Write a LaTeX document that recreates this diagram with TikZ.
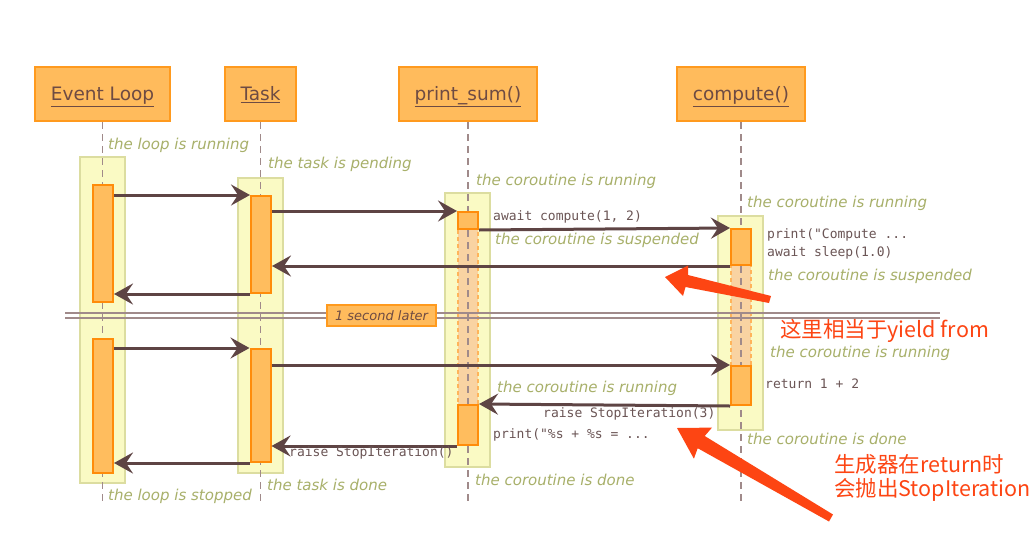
\documentclass[tikz,border=0pt]{standalone}
\usepackage{fontspec}
\setmainfont{DejaVu Sans}
\setmonofont{DejaVu Sans Mono}
\newfontfamily\cjk{Noto Sans CJK SC}
\usetikzlibrary{arrows.meta,calc}
\definecolor{hdfill}{HTML}{FFBB5C}
\definecolor{hdline}{HTML}{FF9A1E}
\definecolor{txtbrown}{HTML}{6E4B43}
\definecolor{bandfill}{HTML}{FAFAC4}
\definecolor{bandline}{HTML}{DCDDA0}
\definecolor{actfill}{HTML}{FFBD5E}
\definecolor{actline}{HTML}{FF8C0A}
\definecolor{suspfill}{HTML}{F9D3A2}
\definecolor{suspline}{HTML}{FFB45A}
\definecolor{notegreen}{HTML}{A8B06A}
\definecolor{codegray}{HTML}{6B5555}
\definecolor{msgcol}{HTML}{5E4444}
\definecolor{lifecol}{HTML}{A08A8A}
\definecolor{annot}{HTML}{FD4513}
\begin{document}
\begin{tikzpicture}[x=1pt,y=-1pt,
  head/.style={draw=hdline,fill=hdfill,line width=2pt,minimum height=54pt,inner sep=0pt,text=txtbrown,text height=13pt,text depth=0pt,font=\fontsize{18.5}{21}\selectfont},
  band/.style={draw=bandline,fill=bandfill,line width=2pt,inner sep=0pt,minimum width=45pt},
  act/.style={draw=actline,fill=actfill,line width=2pt,inner sep=0pt,minimum width=20pt},
  susp/.style={draw=suspline,fill=suspfill,line width=1.8pt,dash pattern=on 4pt off 3pt,inner sep=0pt,minimum width=20pt},
  life/.style={draw=lifecol,line width=1.3pt,dash pattern=on 7pt off 5pt},
  msg/.style={draw=msgcol,line width=3pt,-{Stealth[length=19pt,width=21pt,inset=7pt]}},
  note/.style={text=notegreen,font=\fontsize{15}{17}\selectfont\itshape,anchor=west,inner sep=0pt},
  code/.style={text=codegray,font=\fontsize{13}{15}\selectfont\ttfamily,anchor=west,inner sep=0pt},
  cjknote/.style={text=annot,font=\cjk\fontsize{21.5}{26}\selectfont,anchor=west,inner sep=0pt},
  sepline/.style={draw=lifecol,line width=1.2pt},
  laterbox/.style={draw=hdline,fill=hdfill,line width=2pt,minimum width=109pt,minimum height=21pt,inner sep=0pt,text=txtbrown,font=\fontsize{13}{15}\selectfont\itshape}
]
\useasboundingbox[fill=white] (0,0) rectangle (1031,536);

% headers
\node[head,minimum width=135pt] (elh) at (102.5,94) {\underline{Event Loop}};
\node[head,minimum width=71pt] (th) at (260.5,94) {\underline{Task}};
\node[head,minimum width=138pt] (psh) at (468,94) {\underline{print\_sum()}};
\node[head,minimum width=128pt] (ch) at (741,94) {\underline{compute()}};

% bands
\node[band,minimum height=326pt] (elb) at (102.5,320) {};
\node[band,minimum height=295pt] (tb) at (260.5,325.5) {};
\node[band,minimum height=274pt] (psb) at (467.5,330) {};
\node[band,minimum height=214pt] (cb) at (740.5,323) {};

% suspended regions
\node[susp,minimum height=176pt] (pss) at (468,317) {};
\node[susp,minimum height=101pt] (cs) at (741,315.5) {};

% lifelines
\coordinate (elend) at (102.5,505);
\coordinate (tend) at (260.5,505);
\coordinate (psend) at (468,505);
\coordinate (cend) at (741,505);
\draw[life] (elh.south) -- (elend);
\draw[life] (th.south) -- (tend);
\draw[life] (psh.south) -- (psend);
\draw[life] (ch.south) -- (cend);

% activations
\node[act,minimum height=117pt] (el1) at (103,243.5) {};
\node[act,minimum height=134pt] (el2) at (103,406) {};
\node[act,minimum height=97pt] (t1) at (261,244.5) {};
\node[act,minimum height=113pt] (t2) at (260.5,405.5) {};
\node[act,minimum height=17pt] (ps1) at (468,220.5) {};
\node[act,minimum height=40pt] (ps2) at (468,425) {};
\node[act,minimum height=36pt] (c1) at (741,247) {};
\node[act,minimum height=39pt] (c2) at (741,385.5) {};

% time break
\coordinate (sepL) at (65,313);
\coordinate (sepR) at (940,313);
\coordinate (sepL2) at (65,318);
\coordinate (sepR2) at (940,318);
\draw[sepline] (sepL) -- (sepR);
\draw[sepline] (sepL2) -- (sepR2);
\node[laterbox] (later) at (381.5,315.5) {1 second later};

% messages
\draw[msg] (el1.east |- t1.north) -- (t1.north west);
\draw[msg] (t1.east |- ps1.north) -- (ps1.north west);
\draw[msg] (ps1.south east) -- (c1.north west);
\draw[msg] (c1.south west) -- (t1.east |- c1.south);
\draw[msg] (t1.south west) -- (el1.east |- t1.south);
\draw[msg] (el2.east |- t2.north) -- (t2.north west);
\draw[msg] (t2.east |- c2.north) -- (c2.north west);
\draw[msg] (c2.south west) -- (ps2.north east);
\draw[msg] (ps2.south west) -- (t2.east |- ps2.south);
\draw[msg] (t2.south west) -- (el2.east |- t2.south);

% notes
\node[note] (n1) at (108,145) {the loop is running};
\node[note] (n2) at (268,164) {the task is pending};
\node[note] (n3) at (476,181) {the coroutine is running};
\node[note] (n4) at (747,203) {the coroutine is running};
\node[code] (k1) at (493,217) {await compute(1, 2)};
\node[note] (n5) at (495,240) {the coroutine is suspended};
\node[code] (k2) at (767,235) {print("Compute ...};
\node[code] (k3) at (767,253) {await sleep(1.0)};
\node[note] (n6) at (768,276) {the coroutine is suspended};
\node[note] (n7) at (770,353) {the coroutine is running};
\node[code] (k4) at (765,384) {return 1 + 2};
\node[note] (n8) at (497,388) {the coroutine is running};
\node[code] (k5) at (543,414) {raise StopIteration(3)};
\node[code] (k6) at (493,435) {print("\%s + \%s = ...};
\node[note] (n9) at (747,439) {the coroutine is done};
\node[code] (k7) at (289,453) {raise StopIteration()};
\node[note] (n10) at (475,480) {the coroutine is done};
\node[note] (n11) at (267,485) {the task is done};
\node[note] (n12) at (108,496) {the loop is stopped};

% annotations
\fill[annot,line join=round] (665,277) -- (688,265.5) -- (688,275) -- (771,296) -- (769,303) -- (685.5,287) -- (683,296) -- cycle;
\fill[annot,line join=round] (677,428) -- (712,427.6) -- (704.7,436) -- (833,514.5) -- (829,521.5) -- (697.7,448.2) -- (693.9,458.7) -- cycle;
\node[cjknote] (a1) at (780,331) {这里相当于yield from};
\node[cjknote] (a2) at (834,464) {生成器在return时};
\node[cjknote] (a3) at (834,490) {会抛出StopIteration};
\end{tikzpicture}
\end{document}
